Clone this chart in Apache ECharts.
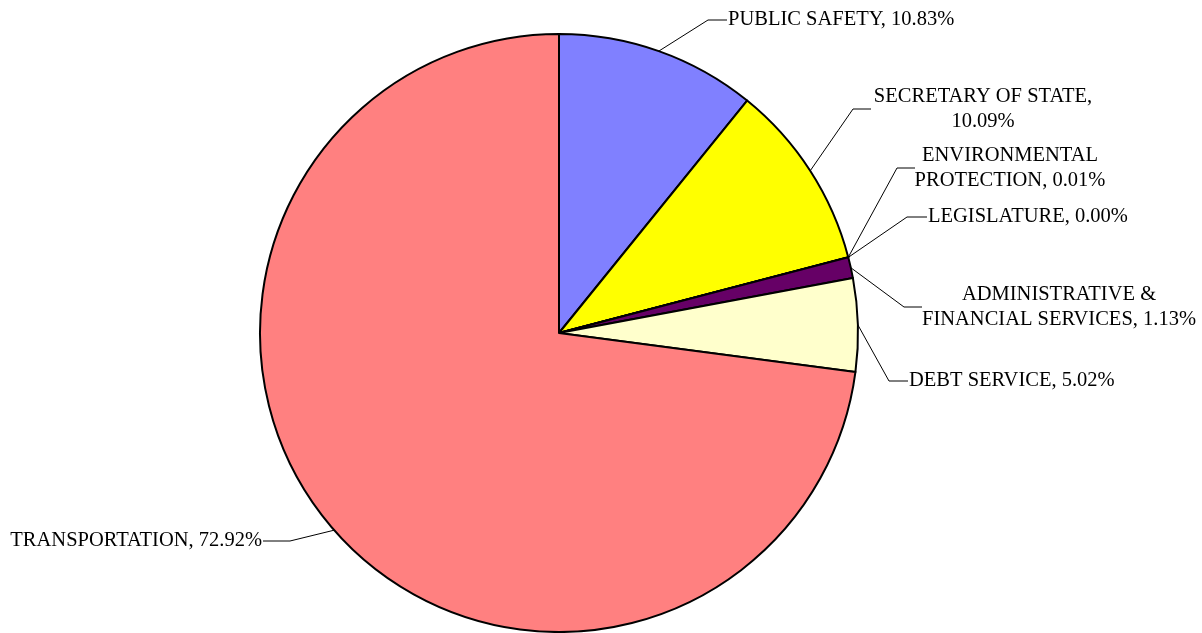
<!DOCTYPE html>
<html>
<head>
<meta charset="utf-8">
<script src="https://cdn.jsdelivr.net/npm/echarts@6/dist/echarts.min.js"></script>
<style>
html,body{margin:0;padding:0;background:#fff;}
#chart{width:1202px;height:633px;}
</style>
</head>
<body>
<div id="chart"></div>
<script>
// Data (clockwise from 12 o'clock)
const categories = ['PUBLIC SAFETY', 'SECRETARY OF STATE', 'ENVIRONMENTAL\nPROTECTION', 'LEGISLATURE', 'ADMINISTRATIVE &\nFINANCIAL SERVICES', 'DEBT SERVICE', 'TRANSPORTATION'];
const values = [10.83, 10.09, 0.01, 0.00, 1.13, 5.02, 72.92];
const colors = ['#8080FF', '#FFFF00', '#3366CC', '#CC99FF', '#660066', '#FFFFCC', '#FF8080'];
const breakBeforePercent = [false, true, false, false, false, false, false];

// Label placement (layout only)
const labelPlace = [
  { x: 728, y: 20, align: 'left', lead: [-20, -1] },
  { x: 983, y: 109, align: 'center', half: 112 },
  { x: 1010, y: 168, align: 'center', half: 95 },
  { x: 928, y: 217, align: 'left', lead: [-21, -2] },
  { x: 1059, y: 307, align: 'center', half: 137 },
  { x: 909, y: 381, align: 'left', lead: [-20, -2] },
  { x: 262, y: 541, align: 'right', lead: [28, 1] }
];

const chart = echarts.init(document.getElementById('chart'));
chart.setOption({
  animation: false,
  backgroundColor: '#ffffff',
  series: [{
    type: 'pie',
    center: [559, 333],
    radius: 299,
    startAngle: 90,
    clockwise: true,
    avoidLabelOverlap: false,
    minShowLabelAngle: 0,
    silent: true,
    data: categories.map((c, i) => ({ name: c, value: values[i], itemStyle: { color: colors[i] } })),
    itemStyle: { borderColor: '#000', borderWidth: 2 },
    label: {
      show: true,
      position: 'outside',
      fontFamily: 'Liberation Serif',
      fontSize: 20.5,
      lineHeight: 25,
      color: '#000',
      formatter: function (p) {
        const pct = p.percent.toFixed(2) + '%';
        return p.name + ',' + (breakBeforePercent[p.dataIndex] ? '\n' : ' ') + pct;
      }
    },
    labelLine: { show: true, length: 20, length2: 20, smooth: false, lineStyle: { color: '#000', width: 1 } },
    emphasis: { disabled: true },
    labelLayout: function (params) {
      const i = params.dataIndex;
      const pl = labelPlace[i];
      const start = params.labelLinePoints ? params.labelLinePoints[0] : null;
      let endX, elbowX;
      if (pl.align === 'left') { endX = pl.x - 1; elbowX = pl.x + pl.lead[0]; }
      else if (pl.align === 'right') { endX = pl.x + 1; elbowX = pl.x + pl.lead[0]; }
      else { endX = pl.x - pl.half; elbowX = endX - 18; }
      const out = { x: pl.x, y: pl.y, align: pl.align, verticalAlign: 'middle' };
      if (start) {
        out.labelLinePoints = [start, [elbowX, pl.y], [endX, pl.y]];
      }
      return out;
    }
  }]
});
</script>
</body>
</html>
